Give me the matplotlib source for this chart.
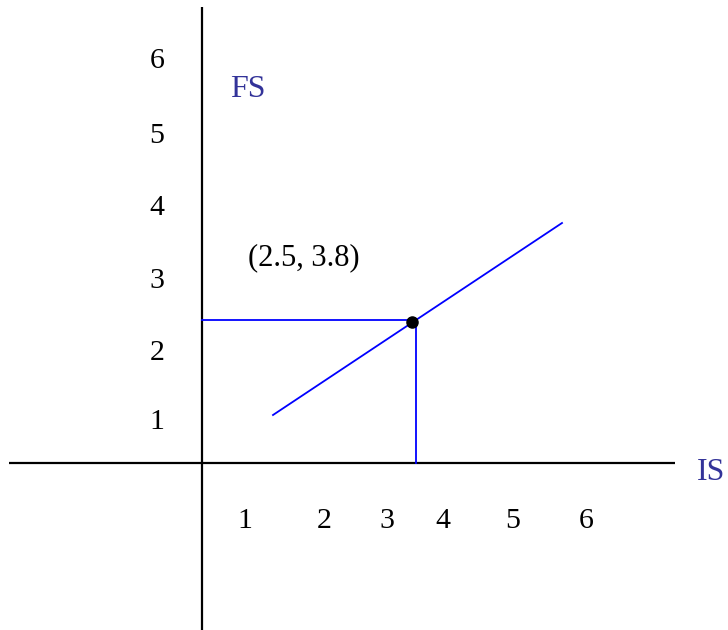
import matplotlib
matplotlib.use("Agg")
import matplotlib.pyplot as plt

# diagram coordinates (picture units, y grows downward)
xaxis_x = [9, 675]
xaxis_y = [463, 463]
yaxis_x = [202, 202]
yaxis_y = [7, 630]

line_x = [273, 562]
line_y = [415, 223]

point_x = [412]
point_y = [322]

hguide_x = [202, 412]
hguide_y = [320, 320]
vguide_x = [416, 416]
vguide_y = [323, 463]

xtick_labels = ["1", "2", "3", "4", "5", "6"]
xtick_pos = [245, 324, 387, 443, 513, 586]
xtick_base = 528

ytick_labels = ["1", "2", "3", "4", "5", "6"]
ytick_pos = [429, 360, 288, 215, 143, 68]
ytick_x = 157

plt.rcParams['font.family'] = ['Liberation Serif', 'DejaVu Serif']

fig = plt.figure(figsize=(7.28, 6.3), dpi=100)
ax = fig.add_axes([0, 0, 1, 1])
ax.set_xlim(0, 728)
ax.set_ylim(630, 0)
ax.axis('off')

# axes
ax.plot(xaxis_x, xaxis_y, color='black', lw=1.6, solid_capstyle='butt')
ax.plot(yaxis_x, yaxis_y, color='black', lw=1.6, solid_capstyle='butt')

# blue lines
ax.plot(line_x, line_y, color='#0000ff', lw=1.3)
ax.plot(hguide_x, hguide_y, color='#0000ff', lw=1.3)
ax.plot(vguide_x, vguide_y, color='#0000ff', lw=1.3)
ax.plot(point_x, point_y, 'o', color='black', ms=8)

for lab, x in zip(xtick_labels, xtick_pos):
    ax.text(x, xtick_base, lab, ha='center', va='baseline', fontsize=21.5)
for lab, y in zip(ytick_labels, ytick_pos):
    ax.text(ytick_x, y, lab, ha='center', va='baseline', fontsize=21.5)

ax.text(304, 265, "(2.5, 3.8)", ha='center', va='baseline', fontsize=22)
ax.text(230, 97, "FS", ha='left', va='baseline', fontsize=23, color='#333399')
ax.text(697, 480, "IS", ha='left', va='baseline', fontsize=23, color='#333399')

fig.savefig("out.png", dpi=100)
